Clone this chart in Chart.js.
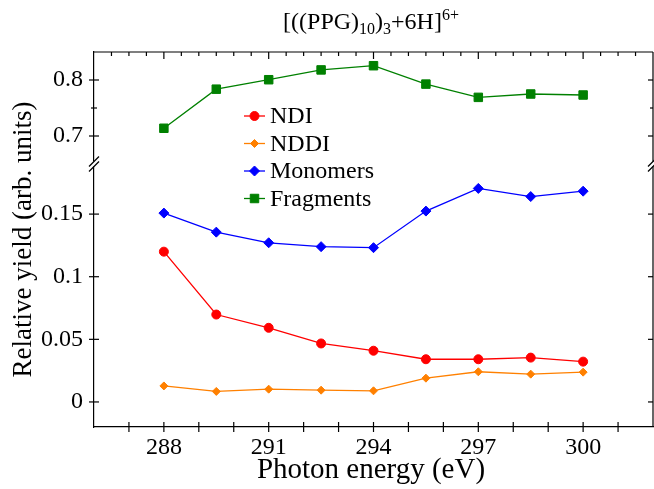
<!DOCTYPE html>
<html>
<head>
<meta charset="utf-8">
<script src="https://cdn.jsdelivr.net/npm/chart.js@4.4.1/dist/chart.umd.min.js"></script>
<style>
  html, body { margin: 0; padding: 0; background: #fff; overflow: hidden; }
  #wrap { position: relative; width: 660px; height: 489px; }
  #title {
    position: absolute; top: 9px; left: 371px; transform: translateX(-50%);
    font: 24px "Liberation Serif", "Times New Roman", serif; line-height: 24px;
    white-space: nowrap; color: #000;
  }
  #title sub, #title sup { font-size: 16px; line-height: 0; }
  #title sub { vertical-align: -5px; }
  #title sup { vertical-align: 9px; }
</style>
</head>
<body>
<div id="wrap">
  <div id="title">[((PPG)<sub>10</sub>)<sub>3</sub>+6H]<sup>6+</sup></div>
  <canvas id="chart" width="660" height="489"></canvas>
</div>
<script>
// photon energy (eV) of each measurement
const energy = [288, 289.5, 291, 292.5, 294, 295.5, 297, 298.5, 300];

// relative yields (arb. units)
const ndi       = [0.1200, 0.0698, 0.0592, 0.0467, 0.0409, 0.0341, 0.0341, 0.0354, 0.0322];
const nddi      = [0.0128, 0.0084, 0.0102, 0.0094, 0.0089, 0.0190, 0.0241, 0.0222, 0.0238];
const monomers  = [0.1508, 0.1356, 0.1271, 0.1240, 0.1232, 0.1524, 0.1705, 0.1640, 0.1683];
const fragments = [0.7138, 0.7836, 0.8005, 0.8180, 0.8255, 0.7927, 0.7690, 0.7750, 0.7732];

const seriesNames = ['NDI', 'NDDI', 'Monomers', 'Fragments'];
const xLabels = [288, 291, 294, 297, 300];
const yLowLabels = [0, 0.05, 0.1, 0.15];
const yTopLabels = [0.7, 0.8];

const FONT = '"Liberation Serif", "Times New Roman", serif';

function pts(vals) {
  return energy.map((e, i) => ({ x: e, y: vals[i] }));
}

function near(v, list) {
  return list.some(l => Math.abs(l - v) < 1e-6);
}

function series(label, vals, color, style, radius, axis) {
  return {
    label: label,
    data: pts(vals),
    yAxisID: axis,
    borderColor: color,
    backgroundColor: color,
    borderWidth: 1.3,
    pointStyle: style,
    pointRadius: radius,
    pointBorderWidth: 1,
    pointBorderColor: color,
    pointBackgroundColor: color,
    tension: 0
  };
}

// frame, crossing ticks, axis break, axis titles and legend
const decor = {
  id: 'decor',
  afterDraw(chart) {
    const { ctx, chartArea: a, scales } = chart;
    const xs = scales.x, yl = scales.y, yt = scales.yTop;
    const seg = (x1, y1, x2, y2) => { ctx.beginPath(); ctx.moveTo(x1, y1); ctx.lineTo(x2, y2); ctx.stroke(); };

    ctx.save();
    ctx.strokeStyle = '#000';
    ctx.lineWidth = 1.2;

    // top and right spines
    seg(a.left, a.top, a.right, a.top);
    seg(a.right, a.top, a.right, a.bottom);

    // x ticks: bottom crossing every 1 eV, top inward every 0.5 eV
    const xt = xs.ticks.map(t => t.value);
    xt.forEach((v, i) => {
      const px = xs.getPixelForValue(v);
      if (v > xs.min && v < xs.max) seg(px, a.bottom - 5, px, a.bottom + 5);
      if (v > xs.min && v < xs.max) seg(px, a.top, px, a.top + (near(v, xLabels) ? 7 : 4));
      if (i < xt.length - 1) {
        const hx = xs.getPixelForValue((v + xt[i + 1]) / 2);
        seg(hx, a.top, hx, a.top + 4);
      }
    });

    // y ticks, both segments
    [[yl, yLowLabels], [yt, yTopLabels]].forEach(([s, labels]) => {
      s.ticks.forEach(t => {
        const v = t.value;
        if (v <= s.min + 1e-9 || v >= s.max - 1e-9) return;
        const py = s.getPixelForValue(v);
        const major = near(v, labels);
        seg(a.left - (major ? 5 : 3), py, a.left + (major ? 5 : 3), py);
        seg(a.right - (major ? 5 : 3), py, a.right, py);
      });
    });

    // axis break marks
    const yb = yt.bottom;
    [a.left, a.right].forEach(x0 => {
      ctx.fillStyle = '#fff';
      ctx.fillRect(x0 - 2, yb - 2.5, 4, 5);
      [-2.5, 2.5].forEach(d => seg(x0 - 5, yb + d + 5, x0 + 5, yb + d - 5));
    });

    // axis titles
    ctx.fillStyle = '#000';
    ctx.textAlign = 'center';
    ctx.textBaseline = 'middle';
    ctx.font = '29px ' + FONT;
    ctx.fillText('Photon energy (eV)', 371, 470);
    ctx.font = '27px ' + FONT;
    ctx.save();
    ctx.translate(24, (a.top + a.bottom) / 2);
    ctx.rotate(-Math.PI / 2);
    ctx.fillText('Relative yield (arb. units)', 0, 0);
    ctx.restore();

    // legend
    ctx.font = '24px ' + FONT;
    ctx.textAlign = 'left';
    chart.data.datasets.forEach((ds, i) => {
      const ly = 116 + i * 27.5;
      ctx.strokeStyle = ds.borderColor;
      ctx.lineWidth = 1.3;
      seg(244, ly, 265, ly);
      ctx.fillStyle = ds.backgroundColor;
      ctx.lineWidth = 1;
      Chart.helpers.drawPoint(ctx, { pointStyle: ds.pointStyle, radius: ds.pointRadius, rotation: 0, borderWidth: 1 }, 254.5, ly);
      ctx.fillStyle = '#000';
      ctx.fillText(ds.label, 270, ly + 1);
    });
    ctx.restore();
  }
};

const yTicks = (labels) => ({
  stepSize: 0.05,
  includeBounds: false,
  autoSkip: false,
  padding: 11,
  color: '#000',
  font: { family: FONT, size: 24 },
  callback: v => near(v, labels) ? String(+v.toFixed(2)) : ''
});

new Chart(document.getElementById('chart'), {
  type: 'line',
  data: {
    datasets: [
      series(seriesNames[0], ndi, '#ff0000', 'circle', 4.5, 'y'),
      series(seriesNames[1], nddi, '#ff8000', 'rectRot', 4, 'y'),
      series(seriesNames[2], monomers, '#0000ff', 'rectRot', 5, 'y'),
      series(seriesNames[3], fragments, '#008000', 'rect', 6, 'yTop')
    ]
  },
  options: {
    responsive: false,
    devicePixelRatio: 1,
    animation: false,
    events: [],
    layout: { padding: { top: 52, right: 3, left: 0, bottom: 0 } },
    plugins: { legend: { display: false }, title: { display: false }, tooltip: { enabled: false } },
    scales: {
      x: {
        type: 'linear',
        position: 'bottom',
        min: 286,
        max: 302,
        grid: { display: false, drawTicks: false },
        border: { display: true, color: '#000', width: 1.2 },
        ticks: {
          stepSize: 1,
          autoSkip: false,
          maxRotation: 0,
          padding: 6,
          color: '#000',
          font: { family: FONT, size: 24 },
          callback: v => near(v, xLabels) ? String(v) : ''
        },
        afterFit: s => { s.height = 62; }
      },
      y: {
        type: 'linear',
        position: 'left',
        stack: 'yy',
        stackWeight: 263,
        min: -0.02,
        max: 0.19,
        grid: { display: false, drawTicks: false },
        border: { display: true, color: '#000', width: 1.2 },
        ticks: yTicks(yLowLabels),
        afterFit: s => { s.width = 94; }
      },
      yTop: {
        type: 'linear',
        position: 'left',
        stack: 'yy',
        stackWeight: 112,
        min: 0.65,
        max: 0.85,
        grid: { display: false, drawTicks: false },
        border: { display: true, color: '#000', width: 1.2 },
        ticks: yTicks(yTopLabels),
        afterFit: s => { s.width = 94; }
      }
    }
  },
  plugins: [decor]
});
</script>
</body>
</html>
